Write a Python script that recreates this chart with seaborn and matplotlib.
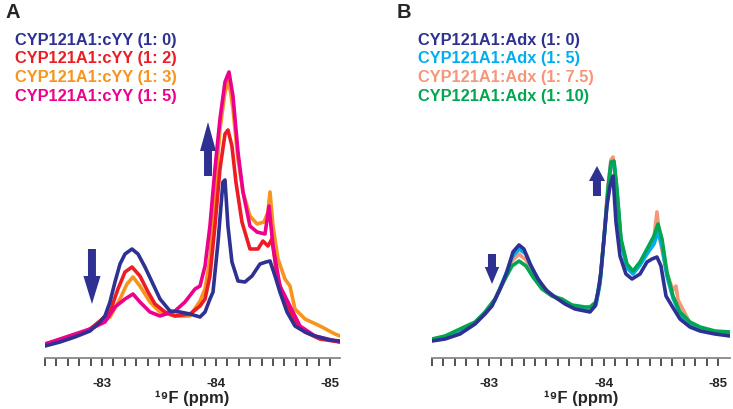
import seaborn as sns
import matplotlib.pyplot as plt
import pandas as pd

# ---- panel A : CYP121A1 + cYY ----
a_labels = ['CYP121A1:cYY (1: 0)', 'CYP121A1:cYY (1: 2)',
            'CYP121A1:cYY (1: 3)', 'CYP121A1:cYY (1: 5)']
a_colors = ['#2E3192', '#ED1C24', '#F7941D', '#EC008C']

a_ppm_0 = [-82.500, -82.632, -82.763, -82.895, -82.982, -83.026, -83.070, -83.114, -83.158, -83.202,
           -83.263, -83.316, -83.377, -83.439, -83.509, -83.596, -83.684, -83.772, -83.860, -83.904,
           -83.947, -83.974, -84.018, -84.061, -84.079, -84.105, -84.140, -84.193, -84.254, -84.316,
           -84.386, -84.439, -84.474, -84.518, -84.561, -84.623, -84.693, -84.781, -84.868, -85.000, -85.088]
a_int_0 = [12, 16, 21, 27, 36, 42, 56, 76, 94, 104,
           109, 104, 91, 76, 59, 47, 46, 44, 41, 46,
           59, 66, 116, 176, 178, 132, 96, 77, 76, 82,
           94, 96, 97, 82, 66, 46, 32, 26, 22, 18, 17]

a_ppm_1 = [-82.500, -82.763, -82.895, -82.982, -83.070, -83.140, -83.202, -83.263, -83.333, -83.404,
           -83.465, -83.553, -83.640, -83.772, -83.860, -83.904, -83.947, -83.991, -84.035, -84.079,
           -84.105, -84.140, -84.175, -84.228, -84.298, -84.368, -84.412, -84.456, -84.491, -84.535,
           -84.605, -84.693, -84.781, -84.912, -85.088]
a_int_1 = [14, 22, 29, 37, 46, 69, 86, 91, 82, 66,
           54, 46, 42, 44, 52, 59, 82, 132, 189, 224,
           228, 212, 176, 136, 109, 109, 117, 112, 119, 82,
           56, 36, 26, 19, 16]

a_ppm_2 = [-82.500, -82.895, -83.070, -83.158, -83.219, -83.272, -83.333, -83.421, -83.509, -83.640,
           -83.772, -83.860, -83.904, -83.947, -83.991, -84.035, -84.079, -84.114, -84.149, -84.193,
           -84.237, -84.298, -84.360, -84.421, -84.456, -84.474, -84.500, -84.544, -84.605, -84.649,
           -84.693, -84.781, -84.912, -85.044, -85.088]
a_int_2 = [13, 28, 41, 59, 74, 81, 72, 56, 46, 42,
           42, 57, 69, 99, 166, 229, 266, 277, 249, 199,
           166, 142, 134, 136, 146, 166, 132, 99, 79, 72,
           49, 39, 32, 24, 22]

a_ppm_3 = [-82.500, -82.895, -83.026, -83.114, -83.202, -83.272, -83.333, -83.421, -83.509, -83.640,
           -83.728, -83.816, -83.860, -83.904, -83.947, -83.991, -84.035, -84.079, -84.114, -84.149,
           -84.193, -84.237, -84.298, -84.360, -84.430, -84.465, -84.500, -84.561, -84.649, -84.737,
           -84.868, -85.088]
a_int_3 = [14, 29, 36, 51, 59, 64, 56, 46, 42, 47,
           56, 69, 72, 92, 132, 189, 239, 276, 286, 262,
           206, 166, 132, 126, 124, 152, 112, 72, 52, 32,
           22, 16]

# ---- panel B : CYP121A1 + Adx ----
b_labels = ['CYP121A1:Adx (1: 0)', 'CYP121A1:Adx (1: 5)',
            'CYP121A1:Adx (1: 7.5)', 'CYP121A1:Adx (1: 10)']
b_colors = ['#2E3192', '#00AEEF', '#F69679', '#00A651']

b_ppm_0 = [-82.500, -82.614, -82.745, -82.876, -82.963, -83.024, -83.094, -83.155, -83.207, -83.260,
           -83.303, -83.356, -83.426, -83.504, -83.574, -83.662, -83.749, -83.836, -83.880, -83.924,
           -83.950, -83.976, -84.002, -84.028, -84.055, -84.081, -84.107, -84.142, -84.194, -84.247,
           -84.317, -84.378, -84.421, -84.465, -84.500, -84.544, -84.596, -84.666, -84.753, -84.841,
           -84.972, -85.103]
b_int_0 = [17, 19, 24, 34, 44, 52, 69, 86, 106, 113,
           109, 94, 79, 67, 61, 54, 49, 47, 46, 52,
           66, 86, 119, 152, 172, 182, 136, 102, 84, 79,
           84, 96, 99, 101, 92, 62, 52, 39, 31, 27,
           24, 22]

b_ppm_1 = [-82.500, -82.614, -82.745, -82.876, -82.963, -83.050, -83.138, -83.199, -83.260, -83.321,
           -83.382, -83.461, -83.548, -83.635, -83.723, -83.836, -83.880, -83.932, -83.967, -84.002,
           -84.037, -84.063, -84.090, -84.116, -84.151, -84.203, -84.255, -84.317, -84.378, -84.439,
           -84.474, -84.509, -84.552, -84.605, -84.666, -84.753, -84.841, -84.972, -85.103]
b_int_1 = [18, 20, 25, 35, 45, 58, 82, 101, 109, 104,
           88, 72, 63, 57, 51, 48, 47, 53, 74, 118,
           166, 193, 195, 165, 115, 90, 84, 93, 104, 114,
           126, 112, 82, 60, 44, 34, 29, 25, 23]

b_ppm_2 = [-82.500, -82.614, -82.745, -82.876, -82.963, -83.050, -83.138, -83.199, -83.260, -83.321,
           -83.382, -83.461, -83.548, -83.635, -83.723, -83.836, -83.880, -83.932, -83.967, -84.002,
           -84.037, -84.063, -84.081, -84.107, -84.151, -84.203, -84.255, -84.317, -84.378, -84.439,
           -84.465, -84.491, -84.552, -84.605, -84.631, -84.649, -84.753, -84.841, -84.972, -85.103]
b_int_2 = [18, 20, 26, 35, 45, 58, 80, 97, 104, 98,
           84, 70, 62, 57, 51, 49, 48, 54, 76, 121,
           172, 198, 201, 170, 118, 92, 86, 94, 107, 120,
           146, 118, 84, 68, 72, 58, 35, 29, 25, 23]

b_ppm_3 = [-82.500, -82.614, -82.745, -82.876, -82.963, -83.050, -83.138, -83.199, -83.260, -83.321,
           -83.382, -83.461, -83.548, -83.635, -83.723, -83.836, -83.880, -83.932, -83.967, -84.002,
           -84.037, -84.063, -84.090, -84.116, -84.151, -84.203, -84.255, -84.317, -84.378, -84.439,
           -84.474, -84.509, -84.552, -84.605, -84.666, -84.753, -84.841, -84.972, -85.103]
b_int_3 = [19, 22, 29, 36, 46, 59, 79, 92, 97, 92,
           81, 69, 62, 59, 53, 51, 51, 56, 76, 119,
           169, 196, 197, 169, 119, 94, 87, 96, 109, 122,
           134, 119, 86, 62, 46, 36, 31, 27, 26]

tick_major = [-83, -84, -85]
tick_labels = ['-83', '-84', '-85']


def draw_panel(ax, series, colors, order, xlim, arrows):
    for i in order:
        ppm, inten = series[i]
        df = pd.DataFrame({'ppm': ppm, 'intensity': inten})
        sns.lineplot(data=df, x='ppm', y='intensity', ax=ax, color=colors[i],
                     lw=2.6, sort=False, estimator=None, legend=False)
    ax.set_xlim(*xlim)
    ax.set_ylim(0, 300)
    for x, y0, y1, hw, hl in arrows:
        ax.arrow(x, y0, 0, y1 - y0, width=0.07, head_width=hw, head_length=hl,
                 length_includes_head=True, color='#2E3192', lw=0)
    ax.set_xticks(tick_major)
    ax.set_xticklabels(tick_labels, fontweight='bold', fontsize=9.5)
    ax.set_xticks([-82.5 - 0.1 * k for k in range(26)], minor=True)
    ax.tick_params(axis='x', which='both', direction='out', length=6, width=1.1,
                   color='#222222', pad=8, bottom=True)
    ax.set_yticks([])
    for s in ['left', 'top', 'right']:
        ax.spines[s].set_visible(False)
    ax.spines['bottom'].set_color('#888888')
    ax.spines['bottom'].set_linewidth(1.3)
    ax.set_ylabel('')
    ax.set_xlabel('¹⁹F (ppm)', fontweight='bold', fontsize=12, labelpad=0,
                  family=['Liberation Sans', 'DejaVu Sans'])


sns.set_theme(style='white')
plt.rcParams['font.family'] = ['Liberation Sans', 'DejaVu Sans']

fig = plt.figure(figsize=(7.33, 4.10), dpi=100)
ax_a = fig.add_axes([45 / 733, 51 / 410, 295 / 733, 300 / 410])
ax_b = fig.add_axes([432 / 733, 51 / 410, 298 / 733, 300 / 410])

a_series = [(a_ppm_0, a_int_0), (a_ppm_1, a_int_1), (a_ppm_2, a_int_2), (a_ppm_3, a_int_3)]
b_series = [(b_ppm_0, b_int_0), (b_ppm_1, b_int_1), (b_ppm_2, b_int_2), (b_ppm_3, b_int_3)]

draw_panel(ax_a, a_series, a_colors, [2, 1, 3, 0], (-82.5, -85.088),
           [(-82.912, 109, 54, 0.15, 28), (-83.930, 182, 236, 0.14, 29)])
draw_panel(ax_b, b_series, b_colors, [2, 1, 3, 0], (-82.5, -85.103),
           [(-83.024, 104, 74, 0.125, 17), (-83.941, 162, 192, 0.14, 15)])

# panel letters and coloured legends
fig.text(5 / 733, 1 - 12 / 410, 'A', fontsize=14.5, fontweight='bold', va='center')
fig.text(397 / 733, 1 - 12 / 410, 'B', fontsize=14.5, fontweight='bold', va='center')
for k, (lab, col) in enumerate(zip(a_labels, a_colors)):
    fig.text(15 / 733, 1 - (40 + 18.7 * k) / 410, lab, color=col, fontsize=11.8,
             fontweight='bold', va='center')
for k, (lab, col) in enumerate(zip(b_labels, b_colors)):
    fig.text(418 / 733, 1 - (40 + 18.7 * k) / 410, lab, color=col, fontsize=11.8,
             fontweight='bold', va='center')

fig.savefig('out.png', dpi=100)
